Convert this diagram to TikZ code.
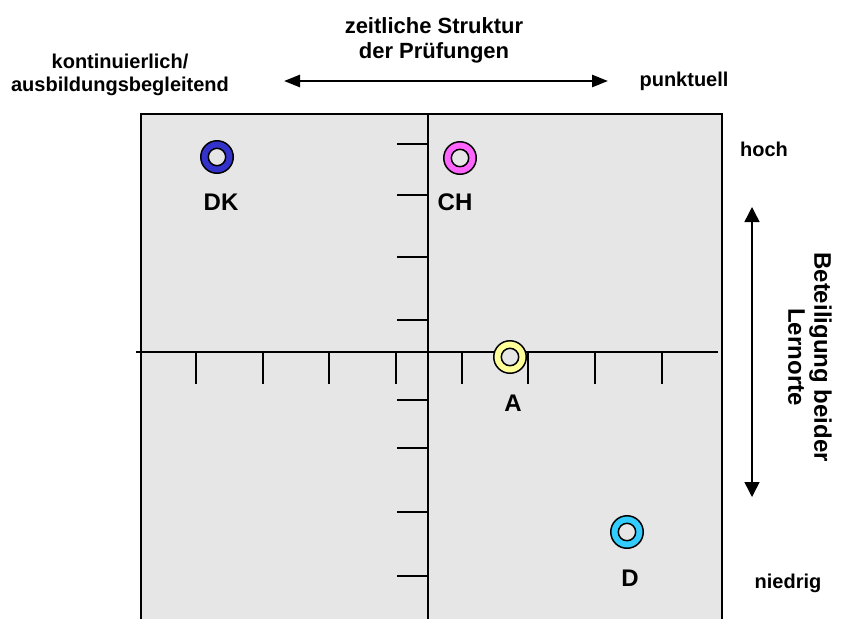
\documentclass[tikz,border=0pt]{standalone}
\usepackage{fontspec}
\setmainfont{Liberation Sans}
\usetikzlibrary{arrows.meta}
\definecolor{bggray}{HTML}{E6E6E6}
\definecolor{ringblue}{HTML}{3333CC}
\definecolor{ringpink}{HTML}{FF66FF}
\definecolor{ringyellow}{HTML}{FFFF99}
\definecolor{ringcyan}{HTML}{33CCFF}
\begin{document}
\begin{tikzpicture}[x=1pt,y=-1pt,
  ring/.style={circle, draw=black, line width=1.5pt, fill=#1, minimum size=32.5pt, inner sep=0pt,
    path picture={\fill[bggray,draw=black,line width=1.5pt] (path picture bounding box.center) circle (8.7pt);}},
  lbl/.style={inner sep=0pt, font=\bfseries\fontsize{24}{28}\selectfont},
  small/.style={inner sep=0pt, align=center, font=\bfseries\fontsize{20}{23}\selectfont},
  title/.style={inner sep=0pt, align=center, font=\bfseries\fontsize{22}{25}\selectfont},
  side/.style={inner sep=0pt, align=center, rotate=-90, font=\bfseries\fontsize{24}{26}\selectfont},
  axis/.style={line width=2pt},
  frame/.style={line width=1.8pt},
  tickline/.style={line width=1.4pt},
  harrow/.style={line width=2.6pt, {Triangle[length=16pt,width=12pt]}-{Triangle[length=16pt,width=12pt]}},
  varrow/.style={line width=1.5pt, {Triangle[length=15pt,width=15pt]}-{Triangle[length=15pt,width=15pt]}}
]
\useasboundingbox (0,0) rectangle (842,619);
% background panel
\coordinate (bl) at (141,619);
\coordinate (tl) at (141,114);
\coordinate (tr) at (722,114);
\coordinate (br) at (722,619);
\fill[bggray] (tl) rectangle (br);
\draw[frame] (bl) -- (tl) -- (tr) -- (br);
% axes
\coordinate (xl) at (136,352);
\coordinate (xr) at (718,352);
\coordinate (yt) at (428,114);
\coordinate (yb) at (428,619);
\draw[axis] (xl) -- (xr);
\draw[axis] (yt) -- (yb);
\foreach \x in {196,263,329,396,462,528,595,662}
  \draw[tickline] (\x,352) -- (\x,384);
\foreach \y in {144,195,257,320,400,448,512,576}
  \draw[tickline] (397,\y) -- (428,\y);
% rings
\node[ring=ringblue]   (dk) at (217,157) {};
\node[ring=ringpink]   (ch) at (460,158) {};
\node[ring=ringyellow] (a)  at (510,357) {};
\node[ring=ringcyan]   (d)  at (627,532) {};
\node[lbl] (dklbl) at (221,202) {DK};
\node[lbl] (chlbl) at (455,202) {CH};
\node[lbl] (albl)  at (513,403) {A};
\node[lbl] (dlbl)  at (630,578.5) {D};
% texts
\node[title] (ttl) at (434,40) {zeitliche Struktur\\der Prüfungen};
\node[small] (kont) at (120,74.5) {kontinuierlich/\\ausbildungsbegleitend};
\node[small] (punkt) at (684,81) {punktuell};
\node[small] (hoch) at (764,149) {hoch};
\node[small] (niedrig) at (788,583) {niedrig};
\node[side] (beteil) at (810,357) {Beteiligung beider\\Lernorte};
% arrows
\coordinate (ha) at (284,81);
\coordinate (hb) at (608,81);
\draw[harrow] (ha) -- (hb);
\coordinate (va) at (752,207);
\coordinate (vb) at (752,497);
\draw[varrow] (va) -- (vb);
\end{tikzpicture}
\end{document}
